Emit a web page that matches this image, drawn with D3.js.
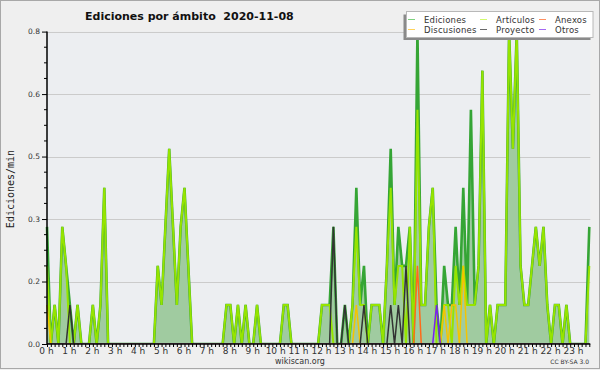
<!DOCTYPE html>
<html><head><meta charset="utf-8">
<script src="https://cdn.jsdelivr.net/npm/d3@7"></script>
<style>
html,body{margin:0;padding:0;background:#efefef;}
svg{display:block;font-family:"DejaVu Sans",sans-serif;}
</style>
</head><body>
<svg id="chart" width="600" height="370"></svg>
<script>
// ---- data (edits per minute, 10-minute buckets from 00:00 to 23:40) ----
const title = "Ediciones por ámbito  2020-11-08";
const yTitle = "Ediciones/min";
const hourLabels = ["0 h","1 h","2 h","3 h","4 h","5 h","6 h","7 h","8 h","9 h","10 h","11 h",
  "12 h","13 h","14 h","15 h","16 h","17 h","18 h","19 h","20 h","21 h","22 h","23 h"];
const yTickValues = [0, 0.16, 0.32, 0.48, 0.64, 0.8];
const bucketMinutes = 10;

const ediciones = [
  0.3,0,0.1,0,0.3,0.2,0.1,0,0.1,0,
  0,0,0.1,0,0.1,0.4,0,0,0,0,
  0,0,0,0,0,0,0,0,0,0.2,
  0.1,0.3,0.5,0.3,0.1,0.3,0.4,0.2,0,0,
  0,0,0,0,0,0,0,0.1,0.1,0,
  0.1,0,0.1,0,0,0.1,0,0,0,0,
  0,0,0.1,0.1,0,0,0,0,0,0,
  0,0,0.1,0.1,0.1,0.3,0,0,0.1,0,
  0.1,0.4,0.1,0.2,0,0.1,0.1,0.1,0,0.2,
  0.5,0.1,0.3,0.2,0.2,0.3,0,0.8,0.1,0.1,
  0.3,0.4,0.1,0,0.2,0.1,0.1,0.3,0.1,0.4,
  0.1,0.6,0.1,0.2,0.7,0,0.1,0,0.1,0.1,
  0.1,0.8,0.5,0.8,0.2,0.1,0.1,0.2,0.3,0.2,
  0.3,0.1,0,0.1,0.1,0,0.1,0,0,0,
  0,0,0.3];
const articulos = [
  0.2,0,0.1,0,0.3,0.2,0,0,0.1,0,
  0,0,0.1,0,0.1,0.4,0,0,0,0,
  0,0,0,0,0,0,0,0,0,0.2,
  0.1,0.3,0.5,0.3,0.1,0.3,0.4,0.2,0,0,
  0,0,0,0,0,0,0,0.1,0.1,0,
  0.1,0,0.1,0,0,0.1,0,0,0,0,
  0,0,0.1,0.1,0,0,0,0,0,0,
  0,0,0.1,0.1,0.1,0,0,0,0,0,
  0.1,0.3,0.1,0.1,0,0.1,0.1,0.1,0,0.2,
  0.4,0.1,0.2,0.2,0,0.3,0,0.6,0.1,0.1,
  0.3,0.4,0,0,0.1,0.1,0,0.2,0.1,0.2,
  0.1,0.1,0.1,0.2,0.7,0,0.1,0,0.1,0.1,
  0.1,0.8,0.5,0.8,0.2,0.1,0.1,0.2,0.3,0.2,
  0.3,0.1,0,0.1,0.1,0,0.1,0,0,0,
  0,0,0.2];
const anexos = [
  0,0,0,0,0,0,0,0,0,0, 0,0,0,0,0,0,0,0,0,0, 0,0,0,0,0,0,0,0,0,0,
  0,0,0,0,0,0,0,0,0,0, 0,0,0,0,0,0,0,0,0,0, 0,0,0,0,0,0,0,0,0,0,
  0,0,0,0,0,0,0,0,0,0, 0,0,0,0,0,0,0,0,0,0, 0,0,0,0,0,0,0,0,0,0,
  0,0,0,0,0,0,0,0.2,0,0, 0,0,0,0,0,0,0,0,0,0, 0,0,0,0,0,0,0,0,0,0,
  0,0,0,0,0,0,0,0,0,0, 0,0,0,0,0,0,0,0,0,0, 0,0,0];
const discusiones = [
  0.1,0,0,0,0,0,0,0,0,0, 0,0,0,0,0,0,0,0,0,0, 0,0,0,0,0,0,0,0,0,0,
  0,0,0,0,0,0,0,0,0,0, 0,0,0,0,0,0,0,0,0,0, 0,0,0,0,0,0,0,0,0,0,
  0,0,0,0,0,0,0,0,0,0, 0,0,0,0,0,0,0,0,0,0, 0,0.1,0,0,0,0,0,0,0,0,
  0,0,0,0,0,0,0,0,0,0, 0,0,0,0,0.1,0,0.1,0.1,0,0.2, 0,0,0,0,0,0,0,0,0,0,
  0,0,0,0,0,0,0,0,0,0, 0,0,0,0,0,0,0,0,0,0, 0,0,0];
const proyecto = [
  0,0,0,0,0,0,0.1,0,0,0, 0,0,0,0,0,0,0,0,0,0, 0,0,0,0,0,0,0,0,0,0,
  0,0,0,0,0,0,0,0,0,0, 0,0,0,0,0,0,0,0,0,0, 0,0,0,0,0,0,0,0,0,0,
  0,0,0,0,0,0,0,0,0,0, 0,0,0,0,0,0.3,0,0,0.1,0, 0,0,0,0.1,0,0,0,0,0,0,
  0.1,0,0.1,0,0.2,0,0,0,0,0, 0,0,0,0,0,0,0,0,0,0, 0,0,0,0,0,0,0,0,0,0,
  0,0,0,0,0,0,0,0,0,0, 0,0,0,0,0,0,0,0,0,0, 0,0,0];
const otros = [
  0,0,0,0,0,0,0,0,0,0, 0,0,0,0,0,0,0,0,0,0, 0,0,0,0,0,0,0,0,0,0,
  0,0,0,0,0,0,0,0,0,0, 0,0,0,0,0,0,0,0,0,0, 0,0,0,0,0,0,0,0,0,0,
  0,0,0,0,0,0,0,0,0,0, 0,0,0,0,0,0,0,0,0,0, 0,0,0,0,0,0,0,0,0,0,
  0,0,0,0,0,0,0,0,0,0, 0,0,0.1,0,0,0,0,0,0,0, 0,0,0,0,0,0,0,0,0,0,
  0,0,0,0,0,0,0,0,0,0, 0,0,0,0,0,0,0,0,0,0, 0,0,0];

const seriesNames  = ["Ediciones","Artículos","Anexos","Discusiones","Proyecto","Otros"];
const seriesValues = [ediciones, articulos, anexos, discusiones, proyecto, otros];
const lineColors   = ["#35a535","#96e400","#ff6a1a","#f5c400","#333333","#7a22ee"];
const legendColors = ["#7fd27f","#d2fa6e","#ff9060","#ffd35c","#6a6a6a","#a468f2"];

// ---- layout ----
const svg = d3.select("#chart");
const X0 = 47, X1 = 589.3, YB = 344, YT = 31.6;

const x = d3.scaleLinear().domain([0, (ediciones.length - 1) * bucketMinutes]).range([X0, X1]);
const y = d3.scaleLinear().domain([0, 0.8]).range([YB, YT]);

svg.append("rect").attr("x",0.5).attr("y",0.5).attr("width",599).attr("height",368)
  .attr("fill","#efefef").attr("stroke","#a8a8a8");

// plot background
svg.append("rect").attr("x",X0).attr("y",YT).attr("width",X1 - X0 + 1).attr("height",YB - YT)
  .attr("fill","#eceef1");

// grid lines
svg.append("g").selectAll("line").data(yTickValues.filter(v => v > 0)).join("line")
  .attr("x1",X0).attr("x2",X1 + 1)
  .attr("y1",d => Math.round(y(d)) + 0.5).attr("y2",d => Math.round(y(d)) + 0.5)
  .attr("stroke","#cbcbcb").attr("stroke-width",1);

// clip
svg.append("clipPath").attr("id","plotclip").append("rect")
  .attr("x",X0 - 2).attr("y",20).attr("width",X1 - X0 + 4).attr("height",YB - 0.6 - 20);

const plot = svg.append("g").attr("clip-path","url(#plotclip)");
const px = (d,i) => x(i * bucketMinutes);

plot.append("path").datum(ediciones)
  .attr("d", d3.area().x(px).y0(y(0)).y1(d => y(d)))
  .attr("fill","#a0cba0");

const widths = [2.6, 2.0, 1.5, 1.5, 1.5, 1.5];
seriesValues.forEach((vals, k) => {
  plot.append("path").datum(vals)
    .attr("d", d3.line().x(px).y(d => y(d)))
    .attr("fill","none").attr("stroke",lineColors[k])
    .attr("stroke-width",widths[k]).attr("stroke-linejoin","miter").attr("stroke-miterlimit",10);
});

// ---- axes ----
const yAxis = d3.axisLeft(y).tickValues(yTickValues).tickFormat(d3.format(".1f")).tickSize(5).tickPadding(2);
const gy = svg.append("g").attr("transform",`translate(${X0},0)`).call(yAxis);
gy.select(".domain").remove();
gy.selectAll("text").attr("font-size",7.5).attr("fill","#333").attr("font-family","DejaVu Sans")
  .attr("dy","0.3em");
gy.selectAll(".tick line").attr("stroke","#000");

const minorY = d3.range(0, 21).map(k => k * 0.04).filter(v => !yTickValues.some(t => Math.abs(t - v) < 1e-6));
svg.append("g").selectAll("line").data(minorY).join("line")
  .attr("x1",X0 - 3).attr("x2",X0)
  .attr("y1",d => y(d)).attr("y2",d => y(d)).attr("stroke","#000");

svg.append("line").attr("x1",X0).attr("x2",X0).attr("y1",YT).attr("y2",YB + 1)
  .attr("stroke","#000").attr("stroke-width",1.5);

const xTicks = ediciones.map((d,i) => i * bucketMinutes);
const xAxis = d3.axisBottom(x).tickValues(xTicks).tickSize(3).tickFormat("");
const gx = svg.append("g").attr("transform",`translate(0,${YB})`).call(xAxis);
gx.select(".domain").remove();
gx.selectAll(".tick line").attr("stroke","#000");

svg.append("line").attr("x1",X0).attr("x2",X1 + 1).attr("y1",YB).attr("y2",YB)
  .attr("stroke","#000").attr("stroke-width",1.5);

svg.append("g").selectAll("text").data(hourLabels).join("text")
  .attr("x",(d,i) => x(i * 60) - 0.5).attr("y",354)
  .attr("text-anchor","middle").attr("font-size",9).attr("fill","#333")
  .text(d => d);

// ---- titles ----
svg.append("text").attr("x",85).attr("y",19.5).attr("font-size",11).attr("font-weight","bold")
  .attr("fill","#111").attr("xml:space","preserve").style("white-space","pre").text(title);

svg.append("text").attr("transform","translate(13.5,189) rotate(-90)").attr("text-anchor","middle")
  .attr("font-family","DejaVu Sans Mono").attr("font-size",10).attr("fill","#222").text(yTitle);

svg.append("text").attr("x",300).attr("y",364).attr("text-anchor","middle")
  .attr("font-size",8).attr("fill","#333").text("wikiscan.org");
svg.append("text").attr("x",589).attr("y",364).attr("text-anchor","end")
  .attr("font-size",6).attr("fill","#333").text("CC BY-SA 3.0");

// ---- legend ----
const lg = svg.append("g");
lg.append("rect").attr("x",403.5).attr("y",14.5).attr("width",187).attr("height",25.5).attr("fill","#8a8a8a");
lg.append("rect").attr("x",406.5).attr("y",11.5).attr("width",186.5).attr("height",26).attr("fill","#fff")
  .attr("stroke","#b8b8b8");
const colX = [408, 480, 539];
const rowY = [19.5, 29.5];
const legendOrder = [0,1,2,3,4,5];
legendOrder.forEach((k, n) => {
  const cx = colX[n % 3], cy = rowY[Math.floor(n / 3)];
  lg.append("line").attr("x1",cx).attr("x2",cx + 7).attr("y1",cy).attr("y2",cy)
    .attr("stroke",legendColors[k]).attr("stroke-width",1);
  lg.append("text").attr("x",cx + 16).attr("y",cy + 3.2).attr("font-size",8.5).attr("fill","#333")
    .attr("letter-spacing",0.2).text(seriesNames[k]);
});
</script>
</body></html>
